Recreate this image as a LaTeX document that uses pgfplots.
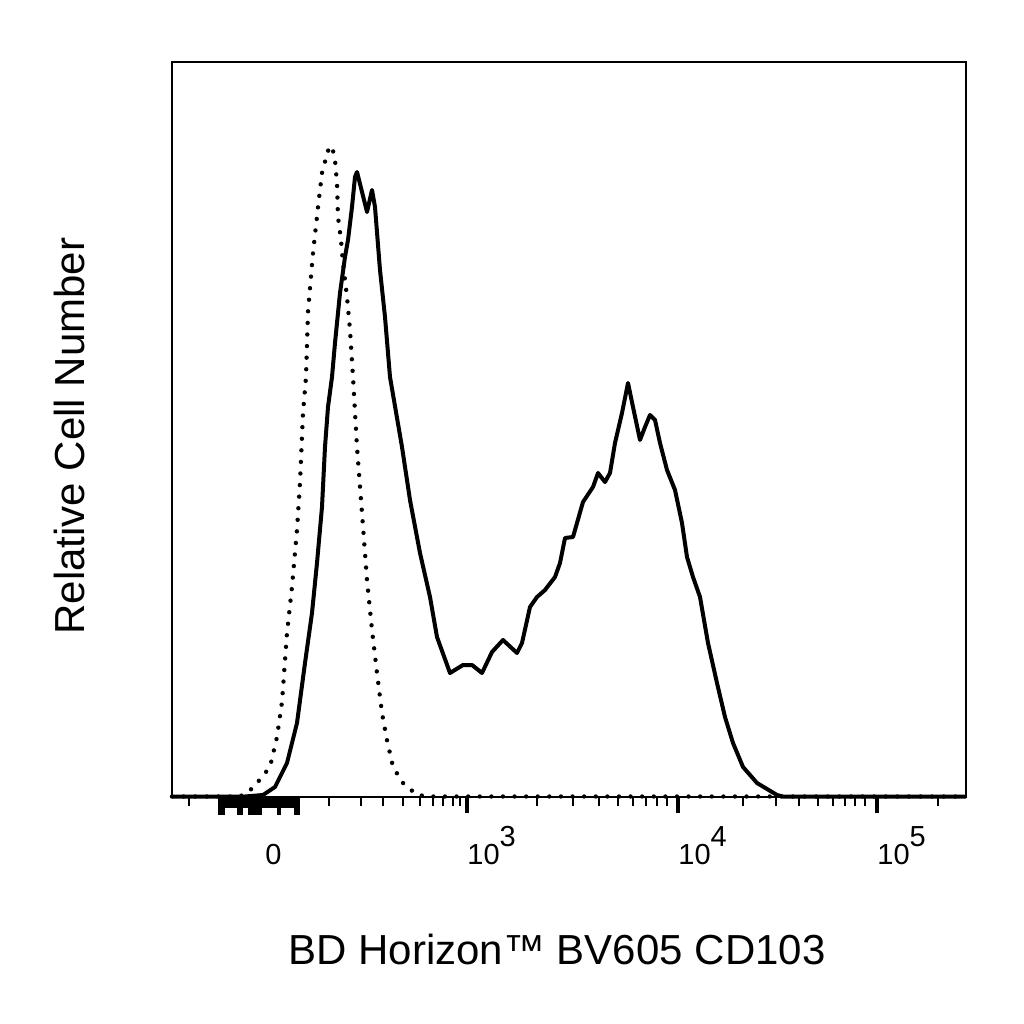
\documentclass[border=0pt]{standalone}
\usepackage{fontspec}
\setmainfont{Liberation Sans}
\usepackage{pgfplots}
\pgfplotsset{compat=1.18}

% x and y are in pixel units of the 1024x1024 reference (1 px = 0.5pt)
\pgfplotstableread{
x y
172 0.5
240 0.5
253 9
270 30
277 60
282 95
287 164
292 210
297 267
300 314
303 384
306 420
308 485
313 544
318 590
322 624
325 635
327 645
332 651
335 637
337 614
338 580
341 557
343 534
347 500
350 467
353 420
357 350
362 284
367 217
372 167
377 124
382 84
387 57
393 30
403 14
417 2
430 0.5
966 0.5
}\isotype

\pgfplotstableread{
x y
172 0.5
245 0.5
263 2
275 10
287 34
297 74
305 134
312 184
317 234
322 290
325 350
328 390
332 420
335 454
340 504
345 540
348 557
352 590
355 620
357 625
367 585
372 607
375 590
380 527
385 480
390 420
402 350
410 297
420 244
430 200
437 160
450 124
463 132
472 132
482 124
492 145
503 157
517 144
522 154
530 190
537 200
545 207
555 220
560 234
565 259
573 260
583 295
593 310
598 324
605 315
610 324
615 354
622 384
628 414
633 390
640 357
645 370
650 382
655 377
660 354
667 327
675 307
682 274
687 240
693 220
700 200
708 154
717 114
725 80
733 54
743 30
757 14
777 2
783 0.5
966 0.5
}\stained

\newcommand{\tl}[1]{\fontsize{14.5pt}{16pt}\selectfont #1}

\begin{document}
\begin{tikzpicture}
\useasboundingbox (0,0) rectangle (512pt,512pt);
\begin{axis}[
  at={(86pt,113.5pt)}, anchor=south west,
  scale only axis, width=397pt, height=367.5pt,
  xmin=172, xmax=966, ymin=0, ymax=735,
  clip=false,
  axis line style={line width=1.2pt},
  ytick=\empty,
  xtick pos=lower,
  tick align=outside,
  xtick={467,678,877},
  xticklabels={\tl{10\raisebox{0.62em}{3}},\tl{10\raisebox{0.62em}{4}},\tl{10\raisebox{0.62em}{5}}},
  extra x ticks={265},
  extra x tick labels={\tl{0\raisebox{0.62em}{\phantom{3}}}},
  extra x tick style={major tick length=0pt, xticklabel style={yshift=-8pt}},
  minor xtick={189,329,361,383,403,420,433,443,453,460,537,573,599,618,633,646,657,667,743,776,799,818,833,845,855,865,938},
  major tick length=8pt,
  minor tick length=4.5pt,
  every major tick/.style={line width=2pt, black},
  every minor tick/.style={line width=1.1pt, black},
  xticklabel style={anchor=north west, inner sep=0pt, yshift=-6.5pt, xshift=0pt},
  xlabel={BD Horizon™ BV605 CD103},
  ylabel={Relative Cell Number},
  label style={font=\fontsize{21pt}{21pt}\selectfont},
  xlabel style={at={(axis description cs:0.485,-0.208)}, anchor=center},
  ylabel style={at={(axis description cs:-0.1285,0.491)}, anchor=center, rotate=0},
]
\addplot[black, line width=2.2pt, dash pattern=on 0pt off 5.8pt, line cap=round] table {\isotype};
\addplot[black, line width=2pt, line join=round] table {\stained};
% dense cluster of negative-scale ticks
\fill[black] (axis cs:218,-1) rectangle (axis cs:300,-11);
\fill[black] (axis cs:218,-1) rectangle (axis cs:225,-18);
\fill[black] (axis cs:237,-1) rectangle (axis cs:243,-18);
\fill[black] (axis cs:248,-1) rectangle (axis cs:262,-18);
\fill[black] (axis cs:277,-1) rectangle (axis cs:281,-18);
\fill[black] (axis cs:294,-1) rectangle (axis cs:300,-18);
\end{axis}
\end{tikzpicture}
\end{document}
